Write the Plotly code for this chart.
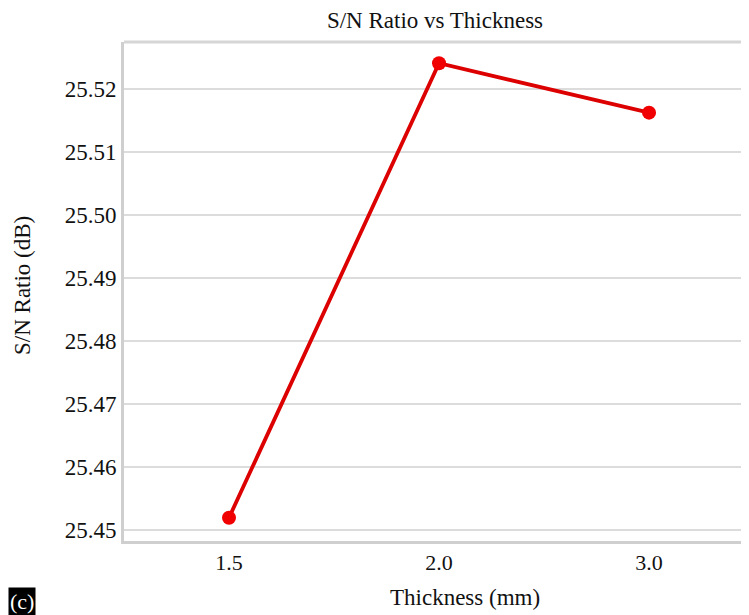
import plotly.graph_objects as go

thickness = ["1.5", "2.0", "3.0"]
sn_ratio = [25.45195, 25.52413, 25.51628]
y_ticks = [25.45, 25.46, 25.47, 25.48, 25.49, 25.50, 25.51, 25.52]
y_tick_labels = ["25.45", "25.46", "25.47", "25.48", "25.49", "25.50", "25.51", "25.52"]

FONT = "Liberation Serif"
OFF = 8  # default page body margin
W, H = 749 - OFF, 615 - OFF
L, R, T, B = 124 - OFF, 0, 42 - OFF, 74
pw, ph = W - L - R, H - T - B

def px_x(px):
    return (px - OFF - L) / pw

def px_y(py):
    return (H - B - (py - OFF)) / ph

fig = go.Figure()
fig.add_trace(go.Scatter(
    x=thickness, y=sn_ratio, mode="lines+markers",
    line=dict(color="#dd0000", width=3.8),
    marker=dict(color="#f00000", size=14),
    showlegend=False,
))

fig.update_layout(
    width=W, height=H,
    margin=dict(l=L, r=R, t=T, b=B),
    paper_bgcolor="white", plot_bgcolor="white",
    font=dict(family=FONT, color="#111111", size=22),
    title=dict(text="S/N Ratio vs Thickness", x=px_x(435), xref="paper", xanchor="center",
               y=1 - (20 - OFF) / H, yref="container", yanchor="middle",
               font=dict(family=FONT, size=23, color="#111111")),
    xaxis=dict(type="category", range=[-0.5, 2.476], showgrid=False,
               showline=True, linecolor="#cfcfcf", linewidth=3, ticks="",
               tickfont=dict(size=22), zeroline=False),
    yaxis=dict(range=[25.44825, 25.5275], tickvals=y_ticks, ticktext=y_tick_labels,
               showgrid=True, gridcolor="#dcdcdc", gridwidth=2,
               showline=True, linecolor="#cfcfcf", linewidth=3, ticks="",
               tickfont=dict(size=23), zeroline=False),
    shapes=[dict(type="line", xref="paper", yref="paper", x0=0, x1=1, y0=1, y1=1,
                 line=dict(color="#d6d6d6", width=3), layer="below")],
    annotations=[
        dict(text="Thickness (mm)", xref="paper", yref="paper", x=px_x(465), y=px_y(597),
             xanchor="center", yanchor="middle", showarrow=False,
             font=dict(family=FONT, size=23, color="#111111")),
        dict(text="S/N Ratio (dB)", xref="paper", yref="paper", x=px_x(22), y=px_y(285),
             xanchor="center", yanchor="middle", showarrow=False, textangle=-90,
             font=dict(family=FONT, size=23, color="#111111")),
        dict(text="(c)", xref="paper", yref="paper", x=px_x(8), y=px_y(587),
             xanchor="left", yanchor="top", showarrow=False, bgcolor="black",
             borderpad=1, font=dict(family=FONT, size=22, color="white")),
    ],
)

fig.write_html("out.html")
